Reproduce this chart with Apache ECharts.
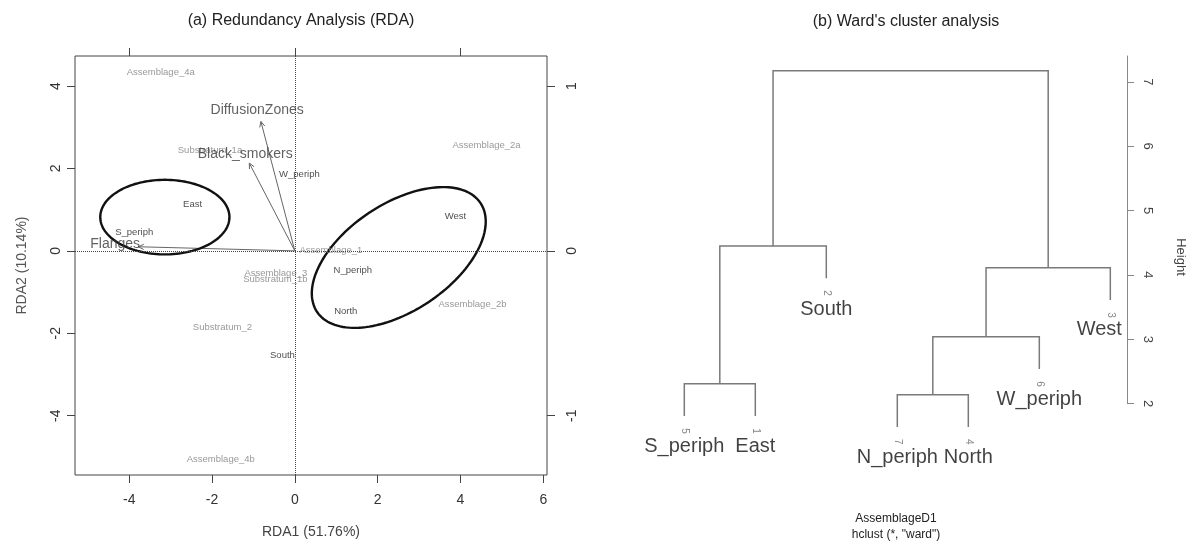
<!DOCTYPE html>
<html>
<head>
<meta charset="utf-8">
<script src="https://cdn.jsdelivr.net/npm/echarts@6/dist/echarts.min.js"></script>
<style>html,body{margin:0;padding:0;background:#fff}#c{width:1187px;height:544px}</style>
</head>
<body>
<div id="c"></div>
<script>
// ---------- (a) RDA data ----------
const speciesNames = ['Assemblage_4a','Substratum_1a','Assemblage_2a','Assemblage_1','Assemblage_3','Substratum_1b','Assemblage_2b','Substratum_2','Assemblage_4b'];
const speciesX = [-3.24, -2.05, 4.63, 0.87, -0.46, -0.47, 4.29, -1.75, -1.79];
const speciesY = [4.33, 2.45, 2.57, 0.01, -0.54, -0.68, -1.31, -1.86, -5.06];

const siteNames = ['East','S_periph','W_periph','West','N_periph','North','South'];
const siteX = [-2.47, -3.88, 0.11, 3.88, 1.40, 1.23, -0.30];
const siteY = [1.13, 0.44, 1.86, 0.83, -0.47, -1.46, -2.53];

const envNames = ['DiffusionZones','Black_smokers','Flanges'];
const envTipX = [-0.82, -1.10, -3.78];
const envTipY = [3.14, 2.13, 0.10];
const envLabelX = [-0.91, -1.20, -4.34];
const envLabelY = [3.41, 2.34, 0.16];

const ellipseCX = [-3.14, 2.51];
const ellipseCY = [0.82, -0.16];
const ellipseA = [1.56, 2.375];
const ellipseB = [0.905, 1.30];
const ellipseAngle = [0, 33.9];

const rdaXTicks = [-4, -2, 0, 2, 4, 6];
const rdaYTicks = [-4, -2, 0, 2, 4];
const biplotTicks = [-1, 0, 1];

// ---------- (b) Ward dendrogram data ----------
const leafNames = ['S_periph','East','South','N_periph','North','W_periph','West'];
const leafIds = ['5','1','2','7','4','6','3'];
const leafBottom = [1.81, 1.81, 3.95, 1.64, 1.64, 2.54, 3.61];
// R-style merge table: negative = leaf position, positive = earlier merge row
const mergeA = [-1, -4, 2, 3, 1, 5];
const mergeB = [-2, -5, -6, -7, -3, 4];
const mergeHeight = [2.31, 2.14, 3.04, 4.11, 4.45, 7.17];
const heightTicks = [2, 3, 4, 5, 6, 7];

const FONT = '"Liberation Sans", Arial, Helvetica, sans-serif';

// merge x positions (mean of children, as in plot.hclust)
const mergeX = [];
function nodeX(n) { return n < 0 ? -n : mergeX[n - 1]; }
function nodeY(n) { return n < 0 ? leafBottom[-n - 1] : mergeHeight[n - 1]; }
for (let i = 0; i < mergeA.length; i++) mergeX[i] = (nodeX(mergeA[i]) + nodeX(mergeB[i])) / 2;

const chart = echarts.init(document.getElementById('c'), null, {renderer: 'canvas'});

function renderEllipse(params, api) {
  const i = params.dataIndex;
  const th = ellipseAngle[i] * Math.PI / 180;
  const pts = [];
  for (let k = 0; k < 144; k++) {
    const t = 2 * Math.PI * k / 144;
    const x = ellipseCX[i] + ellipseA[i] * Math.cos(th) * Math.cos(t) - ellipseB[i] * Math.sin(th) * Math.sin(t);
    const y = ellipseCY[i] + ellipseA[i] * Math.sin(th) * Math.cos(t) + ellipseB[i] * Math.cos(th) * Math.sin(t);
    pts.push(api.coord([x, y]));
  }
  return {type: 'polygon', shape: {points: pts}, style: {fill: 'none', stroke: '#111', lineWidth: 2.4}};
}

function renderArrow(params, api) {
  const i = params.dataIndex;
  const o = api.coord([0, 0]);
  const p = api.coord([envTipX[i], envTipY[i]]);
  const ang = Math.atan2(p[1] - o[1], p[0] - o[0]);
  const L = 6, w = 0.45;
  const h1 = [p[0] - L * Math.cos(ang - w), p[1] - L * Math.sin(ang - w)];
  const h2 = [p[0] - L * Math.cos(ang + w), p[1] - L * Math.sin(ang + w)];
  return {type: 'group', children: [
    {type: 'line', shape: {x1: o[0], y1: o[1], x2: p[0], y2: p[1]}, style: {stroke: '#666', lineWidth: 1}},
    {type: 'polyline', shape: {points: [h1, p, h2]}, style: {stroke: '#666', lineWidth: 1, fill: 'none'}}
  ]};
}

function renderMerge(params, api) {
  const i = params.dataIndex;
  const xa = nodeX(mergeA[i]), ya = nodeY(mergeA[i]);
  const xb = nodeX(mergeB[i]), yb = nodeY(mergeB[i]);
  const h = mergeHeight[i];
  return {type: 'polyline', shape: {points: [api.coord([xa, ya]), api.coord([xa, h]), api.coord([xb, h]), api.coord([xb, yb])]},
    style: {stroke: '#7a7a7a', lineWidth: 1.5, fill: 'none'}};
}

const tickLabel = {fontSize: 14, color: '#333', fontFamily: FONT};
const noLine = {show: false, onZero: false};

const option = {
  animation: false,
  backgroundColor: '#fff',
  textStyle: {fontFamily: FONT},
  graphic: [
    {type: 'text', x: 301, y: 21, style: {text: '(a) Redundancy Analysis (RDA)', font: '16px ' + FONT, fill: '#222', align: 'center', verticalAlign: 'middle', textAlign: 'center', textVerticalAlign: 'middle'}},
    {type: 'text', x: 906, y: 22, style: {text: "(b) Ward's cluster analysis", font: '16px ' + FONT, fill: '#222', align: 'center', verticalAlign: 'middle', textAlign: 'center', textVerticalAlign: 'middle'}},
    {type: 'text', x: 896, y: 519, style: {text: 'AssemblageD1', font: '12px ' + FONT, fill: '#222', align: 'center', verticalAlign: 'middle', textAlign: 'center', textVerticalAlign: 'middle'}},
    {type: 'text', x: 896, y: 535, style: {text: 'hclust (*, "ward")', font: '12px ' + FONT, fill: '#222', align: 'center', verticalAlign: 'middle', textAlign: 'center', textVerticalAlign: 'middle'}},
    {type: 'text', x: 1181, y: 257, rotation: -Math.PI / 2, style: {text: 'Height', font: '13px ' + FONT, fill: '#444', align: 'center', verticalAlign: 'middle', textAlign: 'center', textVerticalAlign: 'middle'}}
  ],
  grid: [
    {left: 75, right: 640, top: 56, bottom: 67, show: true, borderColor: '#444', borderWidth: 1, backgroundColor: 'transparent'},
    {left: 648.8, right: 60, top: 56, bottom: 140.3}
  ],
  xAxis: [
    {gridIndex: 0, type: 'value', min: -5.31, max: 6.09, position: 'bottom',
     axisLine: noLine, splitLine: {show: false},
     axisTick: {show: true, customValues: rdaXTicks, length: 8, lineStyle: {color: '#444'}},
     axisLabel: Object.assign({customValues: rdaXTicks, margin: 18}, tickLabel),
     name: 'RDA1 (51.76%)', nameLocation: 'middle', nameGap: 50,
     nameTextStyle: {fontSize: 14, color: '#444', fontFamily: FONT}},
    {gridIndex: 0, type: 'value', min: -5.31 / 4, max: 6.09 / 4, position: 'top',
     axisLine: noLine, splitLine: {show: false},
     axisTick: {show: true, customValues: biplotTicks, length: 8, lineStyle: {color: '#444'}},
     axisLabel: {show: false}},
    {gridIndex: 1, type: 'value', min: 0.5, max: 7.235, show: false}
  ],
  yAxis: [
    {gridIndex: 0, type: 'value', min: -5.44, max: 4.73, position: 'left',
     axisLine: noLine, splitLine: {show: false},
     axisTick: {show: true, customValues: rdaYTicks, length: 8, lineStyle: {color: '#444'}},
     axisLabel: Object.assign({customValues: rdaYTicks, rotate: 90, margin: 12}, tickLabel),
     name: 'RDA2 (10.14%)', nameLocation: 'middle', nameGap: 46, nameRotate: 90,
     nameTextStyle: {fontSize: 14, color: '#555', fontFamily: FONT}},
    {gridIndex: 0, type: 'value', min: -5.44 / 4, max: 4.73 / 4, position: 'right',
     axisLine: noLine, splitLine: {show: false},
     axisTick: {show: true, customValues: biplotTicks, length: 8, lineStyle: {color: '#444'}},
     axisLabel: Object.assign({customValues: biplotTicks, rotate: 90, margin: 18}, tickLabel)},
    {gridIndex: 1, type: 'value', min: 2, max: 7.40, position: 'right',
     axisLine: {show: true, onZero: false, lineStyle: {color: '#888', width: 1}}, splitLine: {show: false},
     axisTick: {show: true, customValues: heightTicks, length: 7, lineStyle: {color: '#888'}},
     axisLabel: {customValues: heightTicks, rotate: -90, margin: 14, fontSize: 13, color: '#444', fontFamily: FONT}}
  ],
  series: [
    {type: 'custom', name: 'ellipses', xAxisIndex: 0, yAxisIndex: 0, clip: false,
     renderItem: renderEllipse, data: ellipseCX.map((x, i) => [x, ellipseCY[i]]), silent: true, z: 3},
    {type: 'custom', name: 'arrows', xAxisIndex: 0, yAxisIndex: 0, clip: false,
     renderItem: renderArrow, data: envTipX.map((x, i) => [x, envTipY[i]]), silent: true, z: 2},
    {type: 'scatter', name: 'species', xAxisIndex: 0, yAxisIndex: 0, symbolSize: 0, clip: false,
     data: speciesNames.map((n, i) => ({name: n, value: [speciesX[i], speciesY[i]]})),
     label: {show: true, position: 'inside', formatter: '{b}', fontSize: 9.5, color: '#808080', fontFamily: FONT},
     markLine: {silent: true, symbol: 'none', label: {show: false},
       lineStyle: {type: 'dotted', color: '#444', width: 1},
       data: [{xAxis: 0}, {yAxis: 0}]},
     z: 4},
    {type: 'scatter', name: 'sites', xAxisIndex: 0, yAxisIndex: 0, symbolSize: 0, clip: false,
     data: siteNames.map((n, i) => ({name: n, value: [siteX[i], siteY[i]]})),
     label: {show: true, position: 'inside', formatter: '{b}', fontSize: 9.5, color: '#222', fontFamily: FONT},
     z: 5},
    {type: 'scatter', name: 'env', xAxisIndex: 0, yAxisIndex: 0, symbolSize: 0, clip: false,
     data: envNames.map((n, i) => ({name: n, value: [envLabelX[i], envLabelY[i]]})),
     label: {show: true, position: 'inside', formatter: '{b}', fontSize: 14, color: '#3a3a3a', fontFamily: FONT},
     z: 6},
    {type: 'custom', name: 'dendrogram', xAxisIndex: 2, yAxisIndex: 2, clip: false,
     renderItem: renderMerge, data: mergeHeight.map((h, i) => [mergeX[i], h]), silent: true},
    {type: 'scatter', name: 'leafIds', xAxisIndex: 2, yAxisIndex: 2, symbolSize: 0, clip: false,
     data: leafIds.map((n, i) => ({name: n, value: [i + 1, leafBottom[i]]})),
     label: {show: true, position: 'inside', formatter: '{b}', rotate: -90, offset: [15, 0], fontSize: 10, color: '#666', fontFamily: FONT}},
    {type: 'scatter', name: 'leafNames', xAxisIndex: 2, yAxisIndex: 2, symbolSize: 0, clip: false,
     data: leafNames.map((n, i) => ({name: n, value: [i + 1, leafBottom[i]],
       label: n === 'West' ? {offset: [-11, 29]} : undefined})),
     label: {show: true, position: 'inside', formatter: '{b}', offset: [0, 31], fontSize: 20, color: '#111', fontFamily: FONT}}
  ]
};
chart.setOption(option);
</script>
</body>
</html>
